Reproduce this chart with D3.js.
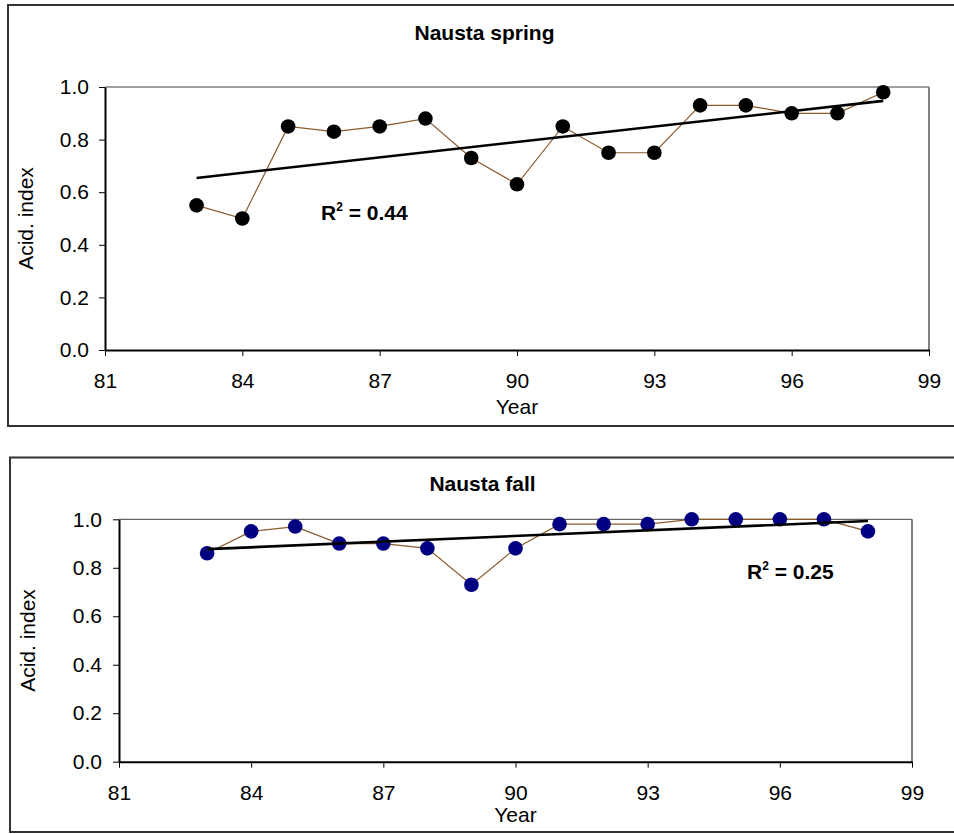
<!DOCTYPE html>
<html>
<head>
<meta charset="utf-8">
<script src="https://cdn.jsdelivr.net/npm/d3@7"></script>
<style>
  html, body { margin: 0; padding: 0; background: #fff; }
  svg { display: block; font-family: "Liberation Sans", Arial, sans-serif; }
</style>
</head>
<body>
<div id="chart"></div>
<script>
const years = [83, 84, 85, 86, 87, 88, 89, 90, 91, 92, 93, 94, 95, 96, 97, 98];
const springValues = [0.55, 0.50, 0.85, 0.83, 0.85, 0.88, 0.73, 0.63, 0.85, 0.75, 0.75, 0.93, 0.93, 0.90, 0.90, 0.98];
const fallValues = [0.86, 0.95, 0.97, 0.90, 0.90, 0.88, 0.73, 0.88, 0.98, 0.98, 0.98, 1.00, 1.00, 1.00, 1.00, 0.95];
const xTicks = [81, 84, 87, 90, 93, 96, 99];
const yTicks = [0.0, 0.2, 0.4, 0.6, 0.8, 1.0];
const titles = ["Nausta spring", "Nausta fall"];
const r2Labels = ["0.44", "0.25"];

const W = 954, H = 834;
const FS = "21px";

const svg = d3.select("#chart").append("svg")
    .attr("width", W)
    .attr("height", H);

// simple least squares fit for the trend line
function linearFit(xs, ys) {
    const mx = d3.mean(xs), my = d3.mean(ys);
    let num = 0, den = 0;
    xs.forEach((x, i) => { num += (x - mx) * (ys[i] - my); den += (x - mx) * (x - mx); });
    const slope = num / den;
    return x => my + slope * (x - mx);
}

function drawPanel(cfg) {
    const g = svg.append("g");

    // outer chart frame (runs off the right edge like the original)
    g.append("rect")
        .attr("x", cfg.frame.x)
        .attr("y", cfg.frame.y)
        .attr("width", 1000)
        .attr("height", cfg.frame.h)
        .attr("fill", "none")
        .attr("stroke", "#333")
        .attr("stroke-width", 2);

    const p = cfg.plot;
    const x = d3.scaleLinear().domain([81, 99]).range([p.left, p.right]);
    const y = d3.scaleLinear().domain([0, 1]).range([p.bottom, p.top]);

    // plot area border (top + right)
    g.append("line")
        .attr("x1", p.left).attr("x2", p.right)
        .attr("y1", p.top).attr("y2", p.top)
        .attr("stroke", "#404040")
        .attr("stroke-width", 1);
    g.append("line")
        .attr("x1", p.right).attr("x2", p.right)
        .attr("y1", p.top).attr("y2", p.bottom)
        .attr("stroke", "#808080")
        .attr("stroke-width", 2);

    const xAxis = g.append("g")
        .attr("transform", `translate(0,${p.bottom})`)
        .call(d3.axisBottom(x).tickValues(xTicks).tickSize(6).tickSizeOuter(0).tickPadding(17).tickFormat(d3.format("d")));
    xAxis.select(".domain").attr("stroke", "#000").attr("stroke-width", 2);
    xAxis.selectAll(".tick line").attr("stroke", "#000");
    xAxis.selectAll("text").attr("font-size", FS).attr("font-family", "Liberation Sans, Arial, sans-serif").attr("fill", "#000");

    const yAxis = g.append("g")
        .attr("transform", `translate(${p.left},0)`)
        .call(d3.axisLeft(y).tickValues(yTicks).tickSize(6).tickSizeOuter(0).tickPadding(cfg.yPad).tickFormat(d3.format(".1f")));
    yAxis.select(".domain").attr("stroke", "#000").attr("stroke-width", 2);
    yAxis.selectAll(".tick line").attr("stroke", "#000");
    yAxis.selectAll("text").attr("font-size", FS).attr("font-family", "Liberation Sans, Arial, sans-serif").attr("fill", "#000");

    // title
    g.append("text")
        .attr("x", cfg.titleX)
        .attr("y", cfg.titleY)
        .attr("text-anchor", "middle")
        .attr("font-size", FS)
        .attr("font-weight", "bold")
        .text(cfg.title);

    // axis titles
    g.append("text")
        .attr("x", (p.left + p.right) / 2)
        .attr("y", p.bottom + cfg.yearOffset)
        .attr("text-anchor", "middle")
        .attr("font-size", FS)
        .text("Year");

    g.append("text")
        .attr("transform", `translate(${cfg.yLabelX},${(p.top + p.bottom) / 2}) rotate(-90)`)
        .attr("text-anchor", "middle")
        .attr("dy", "0.35em")
        .attr("font-size", FS)
        .text("Acid. index");

    const pts = years.map((yr, i) => ({ yr, v: cfg.values[i] }));

    // connecting line
    g.append("path")
        .datum(pts)
        .attr("fill", "none")
        .attr("stroke", "#8B5A2B")
        .attr("stroke-width", 1.2)
        .attr("d", d3.line().x(d => x(d.yr)).y(d => y(d.v)));

    g.selectAll(".dot")
        .data(pts)
        .enter()
        .append("circle")
        .attr("class", "dot")
        .attr("cx", d => x(d.yr))
        .attr("cy", d => y(d.v))
        .attr("r", 7.3)
        .attr("fill", cfg.color);

    // trend line on top
    const fit = linearFit(years, cfg.values);
    const x0 = years[0], x1 = years[years.length - 1];
    g.append("line")
        .attr("x1", x(x0)).attr("y1", y(fit(x0)))
        .attr("x2", x(x1)).attr("y2", y(fit(x1)))
        .attr("stroke", "#000")
        .attr("stroke-width", 2.6);

    // R² label
    const r2 = g.append("text")
        .attr("x", cfg.r2X)
        .attr("y", cfg.r2Y)
        .attr("font-size", FS)
        .attr("font-weight", "bold");
    r2.append("tspan").text("R");
    r2.append("tspan").attr("font-size", "12px").attr("dy", "-9").text("2");
    r2.append("tspan").attr("dy", "9").text(" = " + cfg.r2);
}

drawPanel({
    frame: { x: 8, y: 5, h: 421 },
    plot: { left: 105, top: 87, right: 929, bottom: 350 },
    values: springValues,
    color: "#000",
    title: titles[0],
    titleX: 484.5, titleY: 40,
    yearOffset: 64,
    yLabelX: 25.5,
    yPad: 10,
    r2: r2Labels[0],
    r2X: 321, r2Y: 220
});

drawPanel({
    frame: { x: 10, y: 457.5, h: 374.5 },
    plot: { left: 119, top: 519.3, right: 912, bottom: 761.7 },
    values: fallValues,
    color: "#000080",
    title: titles[1],
    titleX: 482.5, titleY: 491,
    yearOffset: 60,
    yLabelX: 27.5,
    yPad: 11,
    r2: r2Labels[1],
    r2X: 747, r2Y: 579
});
</script>
</body>
</html>
